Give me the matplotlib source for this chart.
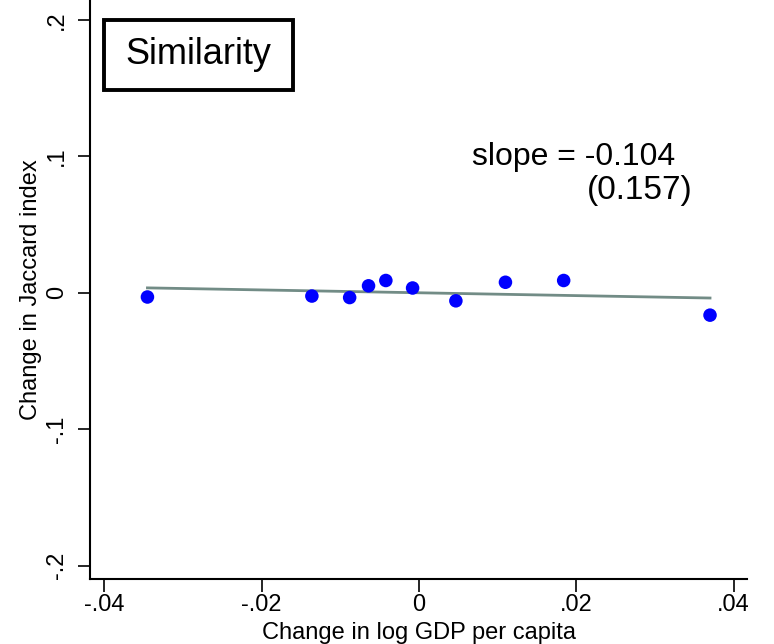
import matplotlib
matplotlib.use("Agg")
import matplotlib.pyplot as plt
from matplotlib.patches import Rectangle
import numpy as np

plt.rcParams['font.family'] = ['Liberation Sans', 'DejaVu Sans']

gdp_change = [-0.0345, -0.0136, -0.0088, -0.0064, -0.0042, -0.0008, 0.0047, 0.0110, 0.0184, 0.0370]
jaccard_change = [-0.0030, -0.0023, -0.0034, 0.0052, 0.0091, 0.0036, -0.0058, 0.0078, 0.0091, -0.0163]
fit_slope = -0.104
fit_intercept = 0.0001
x_ticks = [-0.04, -0.02, 0, 0.02, 0.04]
x_ticklabels = ['-.04', '-.02', '0', '.02', '.04']
y_ticks = [-0.2, -0.1, 0, 0.1, 0.2]
y_ticklabels = ['-.2', '-.1', '0', '.1', '.2']

W, H = 774, 644
fig = plt.figure(figsize=(W/100, H/100), dpi=100)
ax = fig.add_axes([90/W, 65/H, (747-90)/W, 579/H])

xs = np.array([min(gdp_change), max(gdp_change)])
ax.plot(xs, fit_intercept + fit_slope * xs, color='#728c86', lw=2, zorder=2)
ax.scatter(gdp_change, jaccard_change, s=95, color='#0000ff', edgecolors='none', zorder=3)

ax.set_xlim(-0.0418, 0.0417)
ax.set_ylim(-0.2097, 0.2147)
ax.set_xticks(x_ticks)
ax.set_xticklabels(x_ticklabels)
ax.set_yticks(y_ticks)
ax.set_yticklabels(y_ticklabels, rotation=90, va='center')
ax.tick_params(axis='both', direction='out', length=9, width=1.2, labelsize=17, color='black')
ax.tick_params(axis='x', pad=2)
ax.tick_params(axis='y', pad=7)
for s in ['top', 'right']:
    ax.spines[s].set_visible(False)
for s in ['left', 'bottom']:
    ax.spines[s].set_linewidth(1.5)

ax.set_xlabel('Change in log GDP per capita', fontsize=17, labelpad=4)
ax.set_ylabel('Change in Jaccard index', fontsize=17, labelpad=3)

ax.text(0.0326, 0.0994, 'slope = -0.104', fontsize=23, ha='right', va='center')
ax.text(0.0348, 0.0752, '(0.157)', fontsize=24, ha='right', va='center')

fig.patches.append(Rectangle((104/W, (H-90)/H), 189/W, 70/H, transform=fig.transFigure,
                             facecolor='white', edgecolor='black', linewidth=2.8, zorder=5))
fig.text(198.5/W, (H-55)/H, 'Similarity', fontsize=26, ha='center', va='center', zorder=6)

fig.savefig('out.png', dpi=100)
